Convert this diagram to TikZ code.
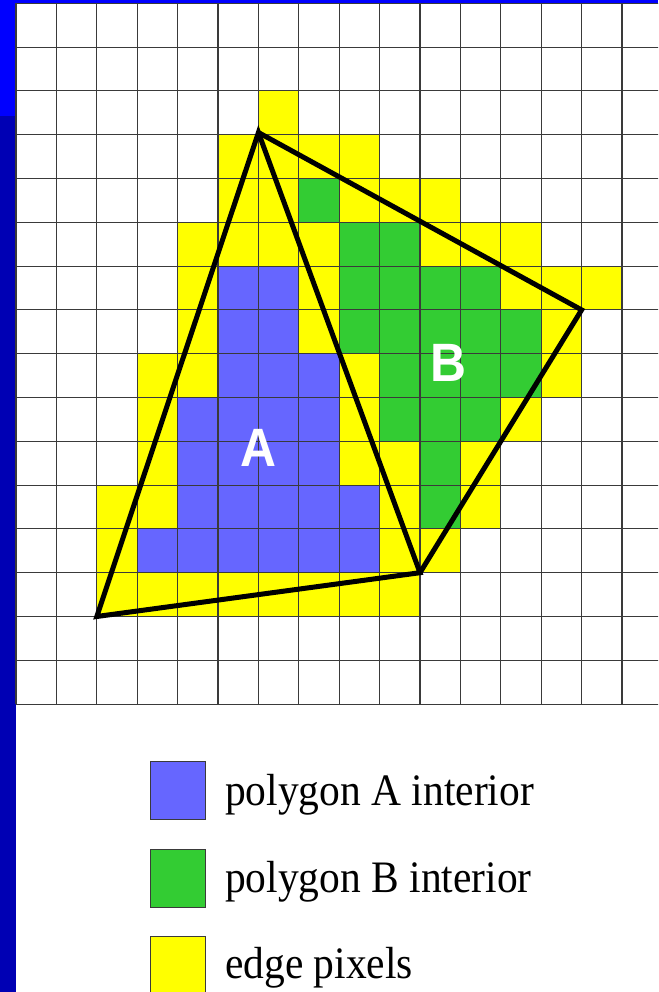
\documentclass[tikz,border=0pt]{standalone}
\usepackage{fontspec}
\setmainfont{Liberation Serif}
\newfontfamily\legendfont[FakeStretch=0.922]{Liberation Serif}
\newfontfamily\labelfont[FakeStretch=0.922]{Liberation Sans}
\definecolor{pixA}{HTML}{6666FF}
\definecolor{pixB}{HTML}{33CC33}
\definecolor{pixE}{HTML}{FFFF00}
\definecolor{barblue}{HTML}{0000FF}
\definecolor{bardark}{HTML}{0000B4}
\definecolor{gridgray}{HTML}{3A3A3A}
\tikzset{
  gridline/.style={draw=gridgray, line width=1.1pt},
  polyedge/.style={draw=black, line width=5pt},
  bigletter/.style={text=white, font=\labelfont\bfseries\fontsize{54}{54}\selectfont, inner sep=0pt, anchor=base},
  legsq/.style={draw=gridgray, line width=1pt, minimum width=55pt, minimum height=58pt, inner sep=0pt},
  legtext/.style={font=\legendfont\fontsize{45}{45}\selectfont, inner sep=0pt, anchor=base west}
}
\begin{document}
\begin{tikzpicture}[x=1pt,y=1pt]
\useasboundingbox (0,0) rectangle (658,-992);
\clip (0,0) rectangle (658,-992);
\fill[white] (0,0) rectangle (658,-992);
\fill[barblue] (0,0) rectangle (658,-3.3);
\fill[barblue] (0,0) rectangle (16,-116);
\fill[bardark] (0,-116) rectangle (16,-992);

\begin{scope}[shift={(16pt,-3.3pt)}, x=40.4pt, y=-43.8pt]
  % edge pixels
  \foreach \c/\r in {6/2,
      5/3,6/3,7/3,8/3,
      5/4,6/4,8/4,9/4,10/4,
      4/5,5/5,6/5,7/5,10/5,11/5,12/5,
      4/6,7/6,12/6,13/6,14/6,
      4/7,7/7,13/7,
      3/8,4/8,8/8,13/8,
      3/9,8/9,12/9,
      3/10,8/10,9/10,11/10,
      2/11,3/11,9/11,11/11,
      2/12,9/12,10/12,
      2/13,3/13,4/13,5/13,6/13,7/13,8/13,9/13}
    \fill[pixE] (\c,\r) rectangle ++(1,1);
  % polygon B interior
  \foreach \c/\r in {7/4,
      8/5,9/5,
      8/6,9/6,10/6,11/6,
      8/7,9/7,10/7,11/7,12/7,
      9/8,10/8,11/8,12/8,
      9/9,10/9,11/9,
      10/10,
      10/11}
    \fill[pixB] (\c,\r) rectangle ++(1,1);
  % polygon A interior
  \foreach \c/\r in {5/6,6/6,
      5/7,6/7,
      5/8,6/8,7/8,
      4/9,5/9,6/9,7/9,
      4/10,5/10,6/10,7/10,
      4/11,5/11,6/11,7/11,8/11,
      3/12,4/12,5/12,6/12,7/12,8/12}
    \fill[pixA] (\c,\r) rectangle ++(1,1);
  % grid
  \foreach \c in {0,...,15} \draw[gridline] (\c,0) -- (\c,16);
  \foreach \r in {0,...,16} \draw[gridline] (0,\r) -- (16,\r);
  % polygons
  \coordinate (vtop) at (6,2.95);
  \coordinate (vbl) at (2,14);
  \coordinate (vmid) at (10,13);
  \coordinate (vright) at (14,7);
  \draw[polyedge] (vtop) -- (vbl) -- (vmid) -- cycle;
  \draw[polyedge] (vtop) -- (vright) -- (vmid);
\end{scope}

\node[bigletter] (labA) at (258.4,-466) {A};
\node[bigletter] (labB) at (448,-381) {B};

\node[legsq, fill=pixA] (sqA) at (178,-790) {};
\node[legtext] (txtA) at (225,-805) {polygon A interior};
\node[legsq, fill=pixB] (sqB) at (178,-878) {};
\node[legtext] (txtB) at (225,-892) {polygon B interior};
\node[legsq, fill=pixE] (sqE) at (178,-965.5) {};
\node[legtext] (txtE) at (225,-978) {edge pixels};
\end{tikzpicture}
\end{document}
